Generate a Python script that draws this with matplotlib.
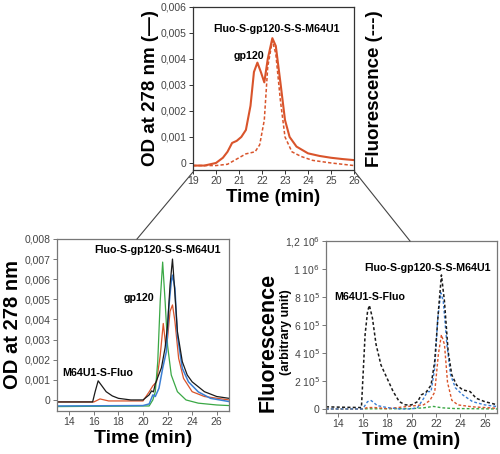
import matplotlib
matplotlib.use("Agg")
import matplotlib.pyplot as plt
from matplotlib.lines import Line2D

plt.rcParams['font.family'] = ['Liberation Sans', 'DejaVu Sans']

# ---- top panel: OD (solid) and fluorescence (dashed), same scale
top_t_od = [19, 19.5, 20, 20.3, 20.5, 20.7, 20.9, 21.1, 21.3, 21.5, 21.65, 21.8, 21.95, 22.1,
            22.25, 22.45, 22.6, 22.8, 23.0, 23.2, 23.5, 24, 24.5, 25, 25.5, 26]
top_od = [-0.0001, -0.0001, 0.0, 0.0002, 0.00043, 0.00077, 0.00085, 0.001, 0.00127, 0.0022,
          0.0035, 0.00386, 0.0035, 0.0031, 0.004, 0.0048, 0.0045, 0.0031, 0.00165, 0.001,
          0.00063, 0.00037, 0.00027, 0.0002, 0.00015, 0.00011]
top_t_fl = [19, 20, 20.5, 21, 21.3, 21.7, 21.9, 22.1, 22.25, 22.45, 22.6, 22.8, 23.0, 23.3,
            23.7, 24.2, 25, 26]
top_fl = [-0.0001, -0.0001, -0.00005, 0.0002, 0.00035, 0.00043, 0.0007, 0.00165, 0.0037,
          0.0047, 0.0042, 0.0024, 0.001, 0.00043, 0.00025, 0.0001, 0.0, -0.0001]

# ---- bottom left: OD at 278 nm (x1e-3)
bl_black_t = [13, 15.9, 16.1, 16.35, 16.7, 17.0, 17.5, 18, 19, 20, 20.5, 20.7, 20.85, 21.0, 21.5,
              21.8, 22.0, 22.2, 22.4, 22.55, 22.8, 23.2, 23.6, 24, 25, 26, 27]
bl_black = [-0.1, -0.1, 0.4, 0.95, 0.66, 0.41, 0.2, 0.08, 0.0, 0.0, 0.25, 0.45, 0.4, 0.8, 1.6,
            2.6, 3.7, 5.7, 7.0, 5.7, 3.4, 1.9, 1.24, 0.9, 0.41, 0.17, 0.08]
bl_green_t = [13, 20, 20.5, 20.8, 21.0, 21.2, 21.4, 21.6, 21.8, 22.0, 22.3, 22.8, 23.5, 24.5, 26, 27]
bl_green = [-0.33, -0.3, -0.3, 0.0, 0.41, 1.9, 4.9, 6.85, 4.9, 2.7, 1.24, 0.41, 0.0, -0.16, -0.25, -0.28]
bl_blue_t = [13, 20, 20.5, 20.8, 21.0, 21.3, 21.6, 21.9, 22.1, 22.3, 22.4, 22.6, 22.8, 23.2, 23.7,
             24.5, 25.5, 27]
bl_blue = [-0.3, -0.28, -0.2, 0.25, 0.17, 0.58, 1.57, 2.4, 4.6, 5.88, 6.2, 5.55, 3.2, 1.57, 0.9,
           0.4, 0.08, -0.08]
bl_red_t = [13, 16.0, 16.5, 17.2, 20, 20.5, 20.8, 21.1, 21.4, 21.65, 21.85, 22.0, 22.2, 22.4,
            22.6, 22.9, 23.3, 24, 25, 27]
bl_red = [-0.1, -0.1, 0.05, -0.05, -0.05, 0.4, 0.7, 0.9, 2.2, 3.8, 2.7, 3.07, 4.4, 4.72, 3.9,
          2.07, 1.07, 0.41, 0.17, 0.0]

# ---- bottom right: fluorescence (x1e5)
br_black_t = [13, 14.5, 15.9, 16.2, 16.4, 16.55, 16.8, 17.1, 17.5, 18.0, 18.5, 19, 19.5, 20, 20.5,
              20.8, 21.2, 21.6, 21.9, 22.2, 22.45, 22.7, 23.0, 23.3, 23.7, 24.2, 24.8, 25.3, 26, 27]
br_black = [0.15, 0.12, 0.1, 5.3, 6.95, 7.4, 6.5, 4.6, 3.14, 2.19, 1.24, 0.52, 0.29, 0.29, 0.52,
            1.0, 1.2, 1.7, 3.4, 6.95, 9.57, 7.67, 4.1, 2.43, 1.7, 1.36, 1.24, 0.76, 0.52, 0.3]
br_blue_t = [13, 16.0, 16.4, 16.7, 17.2, 18, 19, 20, 20.5, 21, 21.3, 21.6, 21.9, 22.15, 22.4,
             22.6, 22.9, 23.2, 23.6, 24.2, 25, 26, 27]
br_blue = [0.0, 0.0, 0.52, 0.6, 0.24, 0.1, 0.0, 0.0, 0.1, 0.76, 1.24, 1.24, 2.9, 6.5, 8.3,
           7.7, 4.6, 2.43, 1.5, 1.0, 0.52, 0.29, 0.17]
br_red_t = [13, 16.0, 16.4, 17.0, 18, 21, 21.5, 21.9, 22.2, 22.45, 22.7, 22.95, 23.3, 23.8, 25, 27]
br_red = [0.0, 0.0, 0.1, 0.1, 0.02, 0.3, 0.6, 1.2, 3.9, 5.3, 4.6, 1.9, 0.62, 0.29, 0.15, 0.05]
br_green_t = [13, 20, 21, 21.8, 22.5, 23.5, 27]
br_green = [0.0, 0.02, 0.08, 0.18, 0.08, 0.03, 0.0]

ORANGE = '#d9542b'
BLACK = '#1a1a1a'
BLUE = '#3b7fd4'
GREEN = '#3aa845'
TICKC = '#444444'

fig = plt.figure(figsize=(5.0, 4.54), dpi=100)

def style(ax, spine_color):
    for s in ax.spines.values():
        s.set_color(spine_color)
        s.set_linewidth(0.9)
    ax.tick_params(direction='out', length=3, width=0.7, colors=spine_color,
                   labelcolor=TICKC, labelsize=7.5, pad=1.5, top=False, right=False)

# top
ax0 = fig.add_axes([0.386, 0.6256, 0.322, 0.359])
ax0.plot(top_t_od, top_od, color=ORANGE, lw=1.5)
ax0.plot(top_t_fl, top_fl, color=ORANGE, lw=1.1, ls=(0, (2.2, 1.4)))
ax0.set_xlim(19, 26)
ax0.set_ylim(-0.00027, 0.006)
ax0.set_xticks(range(19, 27))
yt = [0, 0.001, 0.002, 0.003, 0.004, 0.005, 0.006]
ax0.set_yticks(yt)
ax0.set_yticklabels(['0', '0,001', '0,002', '0,003', '0,004', '0,005', '0,006'])
style(ax0, '#333333')
ax0.set_xlabel('Time (min)', fontsize=13.5, fontweight='bold', labelpad=2)
ax0.set_ylabel('OD at 278 nm (\u2014)', fontsize=13.5, fontweight='bold', labelpad=1)
ax0.text(1.13, 0.5, 'Fluorescence (---)', transform=ax0.transAxes, rotation=90,
         ha='center', va='center', fontsize=13.5, fontweight='bold')
ax0.text(22.65, 0.00515, 'Fluo-S-gp120-S-S-M64U1', ha='center', va='center',
         fontsize=7.7, fontweight='bold')
ax0.text(21.43, 0.0041, 'gp120', ha='center', va='center', fontsize=7.7, fontweight='bold')

# bottom left
ax1 = fig.add_axes([0.114, 0.0947, 0.344, 0.379])
sc = 1e-3
ax1.plot(bl_red_t, [v * sc for v in bl_red], color=ORANGE, lw=0.9)
ax1.plot(bl_green_t, [v * sc for v in bl_green], color=GREEN, lw=0.9)
ax1.plot(bl_blue_t, [v * sc for v in bl_blue], color=BLUE, lw=1.1)
ax1.plot(bl_black_t, [v * sc for v in bl_black], color=BLACK, lw=0.9)
ax1.set_xlim(13, 27)
ax1.set_ylim(-0.00055, 0.008)
ax1.set_xticks(range(14, 27, 2))
yt1 = [i * 0.001 for i in range(9)]
ax1.set_yticks(yt1)
ax1.set_yticklabels(['0'] + ['0,00%d' % i for i in range(1, 9)])
style(ax1, '#777777')
ax1.set_xlabel('Time (min)', fontsize=14, fontweight='bold', labelpad=2)
ax1.set_ylabel('OD at 278 nm', fontsize=14.5, fontweight='bold', labelpad=2)
ax1.text(21.2, 0.00745, 'Fluo-S-gp120-S-S-M64U1', ha='center', va='center',
         fontsize=7.7, fontweight='bold')
ax1.text(19.7, 0.00507, 'gp120', ha='center', va='center', fontsize=7.7, fontweight='bold')
ax1.text(16.3, 0.00134, 'M64U1-S-Fluo', ha='center', va='center', fontsize=7.7, fontweight='bold')

# bottom right
ax2 = fig.add_axes([0.652, 0.0903, 0.342, 0.379])
sc2 = 1e5
ax2.plot(br_green_t, [v * sc2 for v in br_green], color=GREEN, lw=1.0, ls=(0, (2, 1.5)))
ax2.plot(br_red_t, [v * sc2 for v in br_red], color=ORANGE, lw=1.0, ls=(0, (2, 1.5)))
ax2.plot(br_blue_t, [v * sc2 for v in br_blue], color=BLUE, lw=1.0, ls=(0, (2, 1.5)))
ax2.plot(br_black_t, [v * sc2 for v in br_black], color=BLACK, lw=1.1, ls=(0, (2, 1.5)))
ax2.set_xlim(13, 27)
ax2.set_ylim(-0.29e5, 1.2e6)
ax2.set_xticks(range(14, 27, 2))
ax2.set_yticks([0, 2e5, 4e5, 6e5, 8e5, 1e6, 1.2e6])
ax2.set_yticklabels(['0', r'2 10$^5$', r'4 10$^5$', r'6 10$^5$', r'8 10$^5$',
                     r'1 10$^6$', r'1,2 10$^6$'])
style(ax2, '#777777')
ax2.set_xlabel('Time (min)', fontsize=14, fontweight='bold', labelpad=2)
ax2.text(-0.34, 0.41, 'Fluorescence', transform=ax2.transAxes, rotation=90,
         ha='center', va='center', fontsize=15.5, fontweight='bold')
ax2.text(-0.235, 0.47, '(arbitrary unit)', transform=ax2.transAxes, rotation=90,
         ha='center', va='center', fontsize=9, fontweight='bold')
ax2.text(21.27, 10.1e5, 'Fluo-S-gp120-S-S-M64U1', ha='center', va='center',
         fontsize=7.7, fontweight='bold')
ax2.text(16.6, 8.0e5, 'M64U1-S-Fluo', ha='center', va='center', fontsize=7.7, fontweight='bold')

# zoom lines from the top panel to the lower panels
W, H = 500.0, 454.0
for (x0, y0), (x1, y1) in [((193, 172), (137, 239)), ((355, 172), (410, 241))]:
    fig.add_artist(Line2D([x0 / W, x1 / W], [1 - y0 / H, 1 - y1 / H],
                          transform=fig.transFigure, color='#444444', lw=0.8))

fig.savefig('out.png', dpi=100)
